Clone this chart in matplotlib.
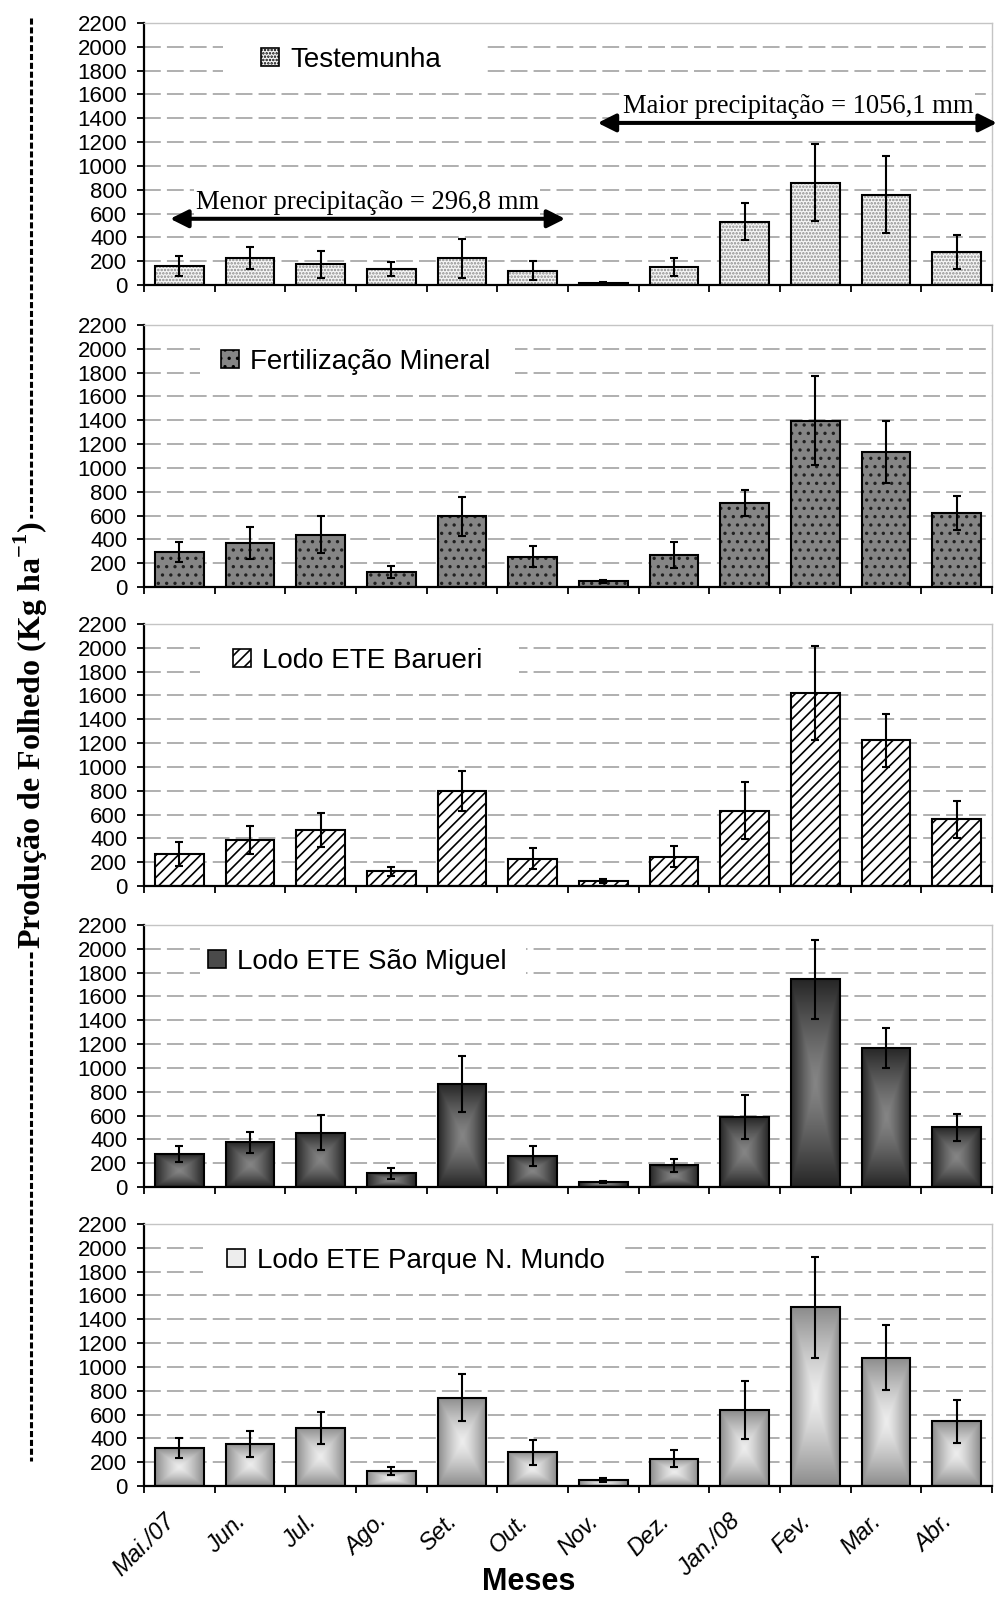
import numpy as np
import matplotlib
matplotlib.use('Agg')
import matplotlib.pyplot as plt
import matplotlib.transforms as mtransforms
from matplotlib.patches import Patch, Rectangle
from matplotlib.lines import Line2D
from matplotlib.colors import LinearSegmentedColormap

plt.rcParams['font.family'] = ['Liberation Sans', 'DejaVu Sans']
plt.rcParams['hatch.linewidth'] = 1.2
plt.rcParams['mathtext.fontset'] = 'custom'
plt.rcParams['mathtext.rm'] = 'Liberation Serif:bold'
plt.rcParams['mathtext.bf'] = 'Liberation Serif:bold'

# monthly litter production (kg/ha) and error bars, May/07 - Apr/08
meses = ['Mai./07', 'Jun.', 'Jul.', 'Ago.', 'Set.', 'Out.', 'Nov.', 'Dez.',
         'Jan./08', 'Fev.', 'Mar.', 'Abr.']

testemunha = [161, 225, 175, 136, 225, 120, 17, 150, 533, 858, 758, 280]
testemunha_err = [82, 90, 114, 57, 163, 82, 10, 75, 155, 323, 325, 142]

mineral = [294, 367, 440, 126, 594, 255, 48, 270, 706, 1396, 1135, 625]
mineral_err = [85, 135, 155, 50, 165, 87, 12, 108, 108, 373, 260, 143]

barueri = [269, 386, 467, 122, 797, 230, 42, 247, 633, 1619, 1222, 561]
barueri_err = [100, 115, 143, 35, 170, 90, 20, 85, 240, 393, 225, 155]

sao_miguel = [277, 375, 457, 115, 863, 261, 42, 182, 586, 1743, 1169, 502]
sao_miguel_err = [70, 87, 150, 45, 235, 82, 12, 57, 183, 330, 170, 115]

parque = [319, 353, 489, 124, 743, 285, 47, 229, 636, 1503, 1076, 542]
parque_err = [87, 107, 135, 33, 200, 105, 17, 72, 244, 424, 272, 184]

tratamentos = ['Testemunha', 'Fertilização Mineral', 'Lodo ETE Barueri',
               'Lodo ETE São Miguel', 'Lodo ETE Parque N. Mundo']
series = [testemunha, mineral, barueri, sao_miguel, parque]
erros = [testemunha_err, mineral_err, barueri_err, sao_miguel_err, parque_err]

precip_menor = '296,8'
precip_maior = '1056,1'

# fill style of each treatment
estilos = [
    dict(kind='hatch', face='#f6f6f6', hatch='.....', hc='#8a8a8a'),
    dict(kind='hatch', face='#858585', hatch='..', hc='#202020'),
    dict(kind='hatch', face='white', hatch='///', hc='black'),
    dict(kind='grad', center='#858585', edge='#262626'),
    dict(kind='grad', center='#ededed', edge='#8c8c8c'),
]
# legend anchor (x in data units) and white box behind it
leg_x = [1.16, 0.59, 0.76, 0.41, 0.68]
leg_box = [(0.62, 4.3), (0.29, 4.75), (0.29, 4.8), (0.29, 4.9), (0.34, 6.25)]

W, H = 998, 1600
fig = plt.figure(figsize=(W / 100, H / 100), dpi=100)

tops = [23, 325, 624, 925, 1224]
ax_h = 262
left, right = 144, 992

x = np.arange(len(meses))
bw = 0.69


def gradient_fill(ax, bars, center, edge):
    u = np.linspace(-1, 1, 121)
    t = np.maximum(np.abs(u)[None, :], np.abs(u)[:, None]) ** 1.3
    cmap = LinearSegmentedColormap.from_list('g', [center, edge])
    for b in bars:
        x0, w, h = b.get_x(), b.get_width(), b.get_height()
        im = ax.imshow(t, cmap=cmap, vmin=0, vmax=1, extent=(x0, x0 + w, 0, h),
                       aspect='auto', interpolation='bilinear', zorder=2)
        im.set_clip_path(b)


axes = []
for i, top in enumerate(tops):
    ax = fig.add_axes([left / W, 1 - (top + ax_h) / H, (right - left) / W, ax_h / H])
    axes.append(ax)
    st = estilos[i]
    vals = series[i]

    if st['kind'] == 'hatch':
        ax.bar(x, vals, bw, color=st['face'], hatch=st['hatch'],
               edgecolor=st['hc'], linewidth=0, zorder=2)
        handle = Patch(facecolor=st['face'], hatch=st['hatch'], edgecolor='black', linewidth=1.2)
    else:
        clip = ax.bar(x, vals, bw, facecolor='none', edgecolor='none', zorder=2)
        gradient_fill(ax, clip, st['center'], st['edge'])
        mid = st['center'] if i == 4 else '#4a4a4a'
        handle = Patch(facecolor=mid, edgecolor='black', linewidth=1.2)
    ax.bar(x, vals, bw, fill=False, edgecolor='black', linewidth=1.5, zorder=2.5)
    ax.errorbar(x, vals, yerr=erros[i], fmt='none', ecolor='black',
                elinewidth=1.5, capsize=3, capthick=1.5, zorder=3)

    ax.set_xlim(-0.5, 11.5)
    ax.set_ylim(0, 2200)
    ax.set_yticks(np.arange(0, 2201, 200))
    ax.set_axisbelow(True)
    ax.yaxis.grid(True, color='#9a9a9a', linewidth=1.1, linestyle=(0, (11, 4)))
    ax.tick_params(axis='y', direction='out', length=5, width=1.3, pad=7, labelsize=16)

    ax.set_xticks(x)
    ax.set_xticks(np.arange(-0.5, 12, 1), minor=True)
    ax.tick_params(axis='x', which='major', length=0)
    ax.tick_params(axis='x', which='minor', direction='out', length=5, width=1.3)
    if i == len(tops) - 1:
        ax.set_xticklabels(meses, rotation=45, ha='right', va='center',
                           rotation_mode='anchor', fontsize=17, style='italic')
        ax.tick_params(axis='x', which='major', pad=23)
        shift = mtransforms.ScaledTranslation(-6 / 72, 0, fig.dpi_scale_trans)
        for lab in ax.get_xticklabels():
            lab.set_transform(lab.get_transform() + shift)
    else:
        ax.set_xticklabels([])

    for s in ['left', 'bottom']:
        ax.spines[s].set_linewidth(1.6)
        ax.spines[s].set_color('black')
    for s in ['top', 'right']:
        ax.spines[s].set_linewidth(1.0)
        ax.spines[s].set_color('#c4c4c4')

    bx0, bx1 = leg_box[i]
    ax.add_patch(Rectangle((bx0, 1700), bx1 - bx0, 400, facecolor='white',
                           edgecolor='none', zorder=1))
    ax.legend([handle], [tratamentos[i]], loc='center left',
              bbox_to_anchor=(leg_x[i], 1890), bbox_transform=ax.transData,
              frameon=False, fontsize=20, borderpad=0, borderaxespad=0,
              handlelength=0.65, handleheight=0.65, handletextpad=0.4)

# rainfall periods on the first panel
ax = axes[0]
arrow = dict(arrowstyle='<|-|>', color='black', lw=2.9, mutation_scale=27,
             shrinkA=0, shrinkB=0, clip_on=False)
ax.annotate('', xy=(-0.13, 556), xytext=(5.46, 556), arrowprops=arrow,
            annotation_clip=False)
ax.text(2.66, 640, f'Menor precipitação = {precip_menor} mm', family='Liberation Serif',
        fontsize=19.2, ha='center', va='baseline', zorder=4,
        bbox=dict(facecolor='white', edgecolor='none', pad=1))
ax.annotate('', xy=(5.92, 1361), xytext=(11.57, 1361), arrowprops=arrow,
            annotation_clip=False)
ax.text(8.76, 1444, f'Maior precipitação = {precip_maior} mm', family='Liberation Serif',
        fontsize=19.2, ha='center', va='baseline', zorder=4,
        bbox=dict(facecolor='white', edgecolor='none', pad=1))

axes[-1].set_xlabel('Meses', fontsize=22, fontweight='bold')
axes[-1].xaxis.set_label_coords(0.454, -0.31)

# shared y label with dashed leaders
fig.text(31 / W, 1 - 735 / H, r'Produção de Folhedo (Kg ha$^{\mathbf{-1}}$)',
         rotation=90, ha='center', va='center', fontsize=23, fontweight='bold',
         family='Liberation Serif')
for y0, y1 in [(18, 518), (952, 1461)]:
    fig.add_artist(Line2D([31 / W, 31 / W], [1 - y0 / H, 1 - y1 / H],
                          transform=fig.transFigure, color='black', lw=2.2,
                          linestyle=(0, (2, 0.9))))

fig.savefig('out.png', dpi=100)
